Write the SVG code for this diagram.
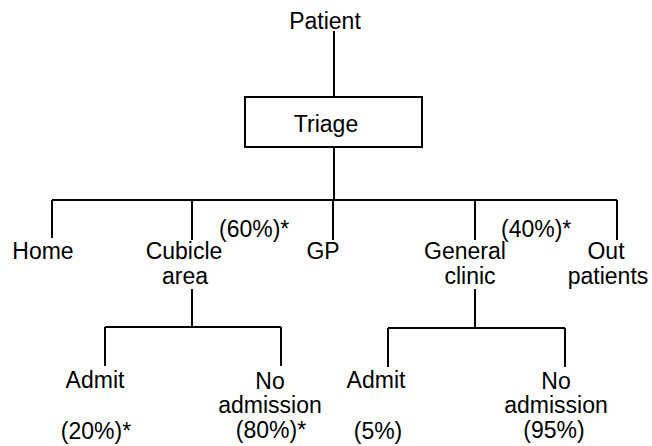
<svg xmlns="http://www.w3.org/2000/svg" width="652" height="446" viewBox="0 0 652 446">
<style>
text{font-family:"Liberation Sans",Arial,sans-serif;font-size:23px;fill:#000}
.m{text-anchor:middle}
.c{stroke:#000;stroke-width:2;fill:none}
</style>
<rect width="652" height="446" fill="#fff"/>
<g id="connectors">
<path class="c" d="M334 31V97M334 147V200M52 200H617M52 200V238M192 200V240M333 200V240M475 200V240M617 200V240"/>
<path class="c" d="M192 289V327M105 327H281M105 327V366M281 327V366"/>
<path class="c" d="M475 289V328M388 328H565M388 328V367M565 328V367"/>
</g>
<g id="patient"><text class="m" x="325" y="29">Patient</text></g>
<g id="triage"><rect class="c" x="245" y="97" width="177" height="50"/><text class="m" x="326" y="132">Triage</text></g>
<g id="home"><text class="m" x="43" y="259">Home</text></g>
<g id="cubicle"><text class="m" x="184" y="259">Cubicle</text><text class="m" x="185" y="284">area</text></g>
<g id="pct60"><text x="219" y="237">(60%)*</text></g>
<g id="gp"><text class="m" x="323" y="259">GP</text></g>
<g id="general"><text class="m" x="465" y="259">General</text><text class="m" x="470" y="284">clinic</text></g>
<g id="pct40"><text x="501" y="237">(40%)*</text></g>
<g id="out"><text class="m" x="606" y="259">Out</text><text class="m" x="608" y="284">patients</text></g>
<g id="admit1"><text class="m" x="95" y="388">Admit</text><text class="m" x="96" y="439">(20%)*</text></g>
<g id="noadm1"><text class="m" x="270" y="389">No</text><text class="m" x="270" y="413">admission</text><text class="m" x="271" y="438">(80%)*</text></g>
<g id="admit2"><text class="m" x="376" y="388">Admit</text><text class="m" x="378" y="439">(5%)</text></g>
<g id="noadm2"><text class="m" x="556" y="389">No</text><text class="m" x="556" y="413">admission</text><text class="m" x="554" y="438">(95%)</text></g>
</svg>
